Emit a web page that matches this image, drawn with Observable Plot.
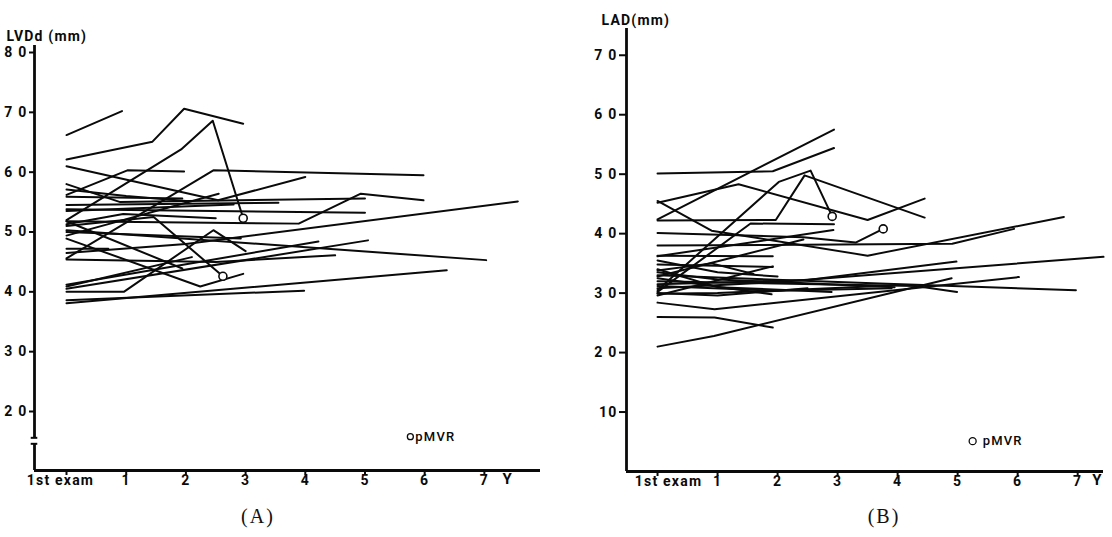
<!DOCTYPE html>
<html><head><meta charset="utf-8">
<script src="https://cdn.jsdelivr.net/npm/d3@7"></script>
<script src="https://cdn.jsdelivr.net/npm/@observablehq/plot@0.6"></script>
<style>
body{margin:0;background:#fff;}
#wrap{position:relative;width:1112px;height:537px;overflow:hidden;background:#fff;}
.panel{position:absolute;top:0;}
.panel svg text{font-family:Roboto,"DejaVu Sans",sans-serif !important;font-weight:700;}
.panel svg text.lg{font-weight:500;}
.cap{position:absolute;top:505px;font-family:"Liberation Serif","DejaVu Serif",serif;font-size:20px;letter-spacing:2px;transform:translateX(-50%);color:#111;}
</style></head><body>
<div id="wrap">
  <div id="pa" class="panel" style="left:0"></div>
  <div id="pb" class="panel" style="left:556px"></div>
  <div class="cap" style="left:258px">(A)</div>
  <div class="cap" style="left:884px">(B)</div>
</div>
<script>
// ---------- data ----------
const yearTicks = [0, 1, 2, 3, 4, 5, 6, 7];
const yearLabels = ["1st exam", "1", "2", "3", "4", "5", "6", "7"];

const lvddTicks = [20, 30, 40, 50, 60, 70, 80];
const lvddTickLabels = ["2 0", "3 0", "4 0", "5 0", "6 0", "7 0", "8 0"];
const ladTicks = [10, 20, 30, 40, 50, 60, 70];
const ladTickLabels = ["10", "2 0", "3 0", "4 0", "5 0", "6 0", "7 0"];

// each patient: [year, mm] points
const lvddPatients = [
  [[0,66.2],[0.93,70.2]],
  [[0,62.1],[1.44,65.1],[1.97,70.6],[2.96,68.1]],
  [[0,52.0],[1.92,63.8],[2.45,68.6],[2.96,52.3]],
  [[0,56.2],[1.02,60.3],[1.97,60.1]],
  [[0,61.0],[2.54,55.3],[4.0,59.2]],
  [[0,58.0],[0.9,55.0],[5.0,55.6]],
  [[0,45.6],[2.46,60.3],[5.98,59.5]],
  [[0,51.8],[3.89,51.4],[4.93,56.4],[5.98,55.3]],
  [[0,53.8],[5.0,53.2]],
  [[0,46.5],[2.0,48.0],[7.56,55.1]],
  [[0,50.3],[7.03,45.3]],
  [[0,40.5],[5.05,48.6]],
  [[0,41.2],[4.22,48.4]],
  [[0,45.4],[2.5,45.0],[4.5,46.1]],
  [[0,38.6],[3.98,40.2]],
  [[0,38.1],[6.37,43.6]],
  [[0,40.0],[0.96,40.0],[2.46,50.3],[3.0,46.8]],
  [[0,48.9],[2.24,40.9],[2.96,43.0]],
  [[0,49.4],[2.55,56.4]],
  [[0,54.5],[3.55,54.9]],
  [[0,55.9],[1.94,55.6]],
  [[0,50.0],[2.92,48.9]],
  [[0,47.2],[0.7,47.2]],
  [[0,51.8],[1.94,43.9]],
  [[0,51.0],[1.46,52.5],[2.62,42.6]],
  [[0,40.9],[2.1,45.8]],
  [[0,51.3],[0.95,53.0],[2.5,52.3]],
  [[0,53.5],[2.8,54.6]],
  [[0,57.1],[1.0,56.0],[2.0,55.2]]
];
const lvddPMVR = [[2.96,52.3],[2.62,42.6]];

const ladPatients = [
  [[0,50.1],[1.92,50.5],[2.94,54.4]],
  [[0,42.4],[2.94,57.5]],
  [[0,45.2],[1.35,48.3],[3.5,42.3],[4.45,45.9]],
  [[0,42.2],[1.97,42.3],[2.45,49.8],[4.45,42.7]],
  [[0,45.5],[0.9,40.5],[3.5,36.3],[6.77,42.8]],
  [[0,38.0],[4.91,38.3],[5.94,40.8]],
  [[0,30.5],[2.02,48.7],[2.55,50.6],[2.91,42.9]],
  [[0,30.2],[1.55,41.7],[2.94,41.6]],
  [[0,40.1],[2.43,39.4],[3.3,38.5],[3.76,40.8]],
  [[0,36.2],[2.93,40.6]],
  [[0,36.3],[1.92,36.2]],
  [[0,30.8],[1.9,31.8],[7.43,36.1]],
  [[0,31.5],[2.5,32.2],[4.98,35.3]],
  [[0,21.0],[0.94,22.8],[4.9,32.5]],
  [[0,33.0],[3.7,31.6],[6.97,30.5]],
  [[0,32.0],[4.3,31.2],[4.99,30.2]],
  [[0,28.4],[0.95,27.3],[6.02,32.7]],
  [[0,26.0],[0.95,25.9],[1.92,24.2]],
  [[0,34.8],[1.92,34.4]],
  [[0,33.5],[1.0,32.3],[3.95,31.0]],
  [[0,29.9],[1.0,30.0],[3.9,31.3]],
  [[0,32.5],[1.9,29.8]],
  [[0,35.5],[1.0,33.5],[2.0,32.8]],
  [[0,29.6],[1.92,34.5]],
  [[0,34.0],[1.0,31.0],[2.9,30.2]],
  [[0,31.2],[2.0,30.4],[3.9,30.8]],
  [[0,32.8],[2.43,39.0]],
  [[0,30.0],[1.0,29.6],[2.5,30.8]],
  [[0,33.8],[0.9,35.0],[1.6,33.2]]
];
const ladPMVR = [[2.91,42.9],[3.76,40.8]];

// ---------- drawing ----------
const ink = "#0a0a0a";
function toRows(patients) {
  return patients.flatMap((pts, id) => pts.map(([t, v]) => ({id, t, v})));
}

function panel(o) {
  const x0 = o.xDomain[0], y0 = o.yDomain[0], y1 = o.yDomain[1];
  const axisSegs = o.yBreak
    ? [{a: y1, b: o.yBreak[0]}, {a: o.yBreak[1], b: y0}]
    : [{a: y1, b: y0}];
  const marks = [
    Plot.line(toRows(o.patients), {x: "t", y: "v", z: "id", stroke: ink, strokeWidth: 2}),
    Plot.dot(o.pmvr, {x: d => d[0], y: d => d[1], r: 4, fill: "white", stroke: ink, strokeWidth: 1.6}),
    Plot.ruleY([y0], {stroke: ink, strokeWidth: 2.8}),
    Plot.ruleX(axisSegs, {x: () => x0, y1: "a", y2: "b", stroke: ink, strokeWidth: 2.8}),
    Plot.axisY(o.yTicks, {tickSize: o.tickSizeY, tickPadding: 2, strokeWidth: 2, fontSize: 14,
      fill: ink, tickFormat: d => o.yLabels[o.yTicks.indexOf(d)], label: null}),
    Plot.axisX(yearTicks, {tickSize: 5, strokeWidth: 2, tickFormat: () => "", label: null}),
    Plot.text(yearTicks.slice(1), {x: d => d, text: d => yearLabels[d], frameAnchor: "bottom",
      dy: 14, fontSize: 14, fill: ink}),
    Plot.text([0], {x: d => d, text: d => yearLabels[d], frameAnchor: "bottom",
      dy: 14, dx: o.firstDx, fontSize: 14, fill: ink}),
    Plot.text(["Y"], {x: () => o.yLabelX, text: d => d, frameAnchor: "bottom", dy: 13, fontSize: 15, fill: ink}),
    Plot.text([o.title], {text: d => d, frameAnchor: "top-left", textAnchor: "start",
      dx: o.titleDx, dy: o.titleDy, fontSize: 14, fill: ink}),
    Plot.dot([o.legend], {x: d => d[0], y: d => d[1], r: o.legendR, fill: "white", stroke: ink, strokeWidth: 1.3}),
    Plot.text([o.legend], {x: d => d[0], y: d => d[1], text: () => "pMVR", dx: o.legendDx,
      textAnchor: "start", fontSize: 13, fill: ink, className: "lg"})
  ];
  if (o.yBreak) {
    marks.push(Plot.ruleY(o.yBreak, {y: d => d, x1: () => x0 - 0.055, x2: () => x0 + 0.055,
      stroke: ink, strokeWidth: 2}));
  }
  const svg = Plot.plot({
    width: 556, height: 500,
    marginLeft: o.margins[0], marginRight: o.margins[1],
    marginTop: o.margins[2], marginBottom: o.margins[3],
    x: {domain: o.xDomain, axis: null},
    y: {domain: o.yDomain, axis: null},
    style: {fontFamily: "Roboto, 'DejaVu Sans', sans-serif", letterSpacing: "1.2px",
      color: ink, background: "transparent", overflow: "visible"},
    marks
  });
  // legend text slightly lighter
  d3.select(svg).selectAll("text").filter(function() { return this.textContent === "pMVR"; })
    .style("font-weight", "500");
  return svg;
}

document.getElementById("pa").append(panel({
  patients: lvddPatients, pmvr: lvddPMVR,
  yTicks: lvddTicks, yLabels: lvddTickLabels,
  xDomain: [-0.536, 7.94], yDomain: [10.14, 81.17],
  margins: [34, 16, 45, 30],
  tickSizeY: 5, firstDx: -6, yLabelX: 7.39,
  title: "LVDd (mm)", titleDx: -28, titleDy: -14,
  yBreak: [15.6, 14.6],
  legend: [5.76, 15.8], legendR: 3, legendDx: 5
}));

document.getElementById("pb").append(panel({
  patients: ladPatients, pmvr: ladPMVR,
  yTicks: ladTicks, yLabels: ladTickLabels,
  xDomain: [-0.517, 7.43], yDomain: [0, 74.5],
  margins: [70, 9, 28, 29],
  tickSizeY: 7, firstDx: 11, yLabelX: 7.33,
  title: "LAD(mm)", titleDx: -25, titleDy: -13,
  yBreak: null,
  legend: [5.25, 5.1], legendR: 3.5, legendDx: 10
}));
</script>
</body></html>
